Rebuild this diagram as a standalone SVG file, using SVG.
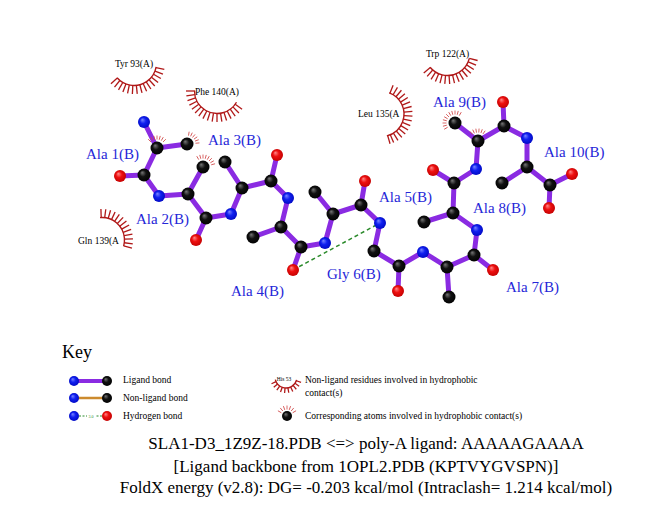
<svg xmlns="http://www.w3.org/2000/svg" xmlns:xlink="http://www.w3.org/1999/xlink" width="651" height="511" viewBox="0 0 651 511">
<defs>
<radialGradient id="gC" cx="0.5" cy="0.5" r="0.55" fx="0.35" fy="0.3"><stop offset="0" stop-color="#777"/><stop offset="0.45" stop-color="#111"/><stop offset="1" stop-color="#000"/></radialGradient>
<radialGradient id="gN" cx="0.5" cy="0.5" r="0.55" fx="0.35" fy="0.3"><stop offset="0" stop-color="#7a86ff"/><stop offset="0.45" stop-color="#1020f0"/><stop offset="1" stop-color="#0008c0"/></radialGradient>
<radialGradient id="gO" cx="0.5" cy="0.5" r="0.55" fx="0.35" fy="0.3"><stop offset="0" stop-color="#ff8a8a"/><stop offset="0.45" stop-color="#ee1010"/><stop offset="1" stop-color="#c00000"/></radialGradient>
<line id="sp" x1="22.5" y1="0" x2="31" y2="0"/>
<line id="ksp" x1="11" y1="0" x2="16" y2="0"/>
<line id="el" x1="8.5" y1="0" x2="12.5" y2="0"/>
</defs>
<style>
.c{fill:url(#gC)}
.n{fill:url(#gN)}
.o{fill:url(#gO)}
.lb{stroke:#8a2be2;stroke-width:5;stroke-linecap:round;fill:none}
.hb{stroke:#2a8a2a;stroke-width:1.5;stroke-dasharray:4 3;fill:none}
.arc{stroke:#b01818;stroke-width:1.4;fill:none}
.arc use{stroke:#b01818;stroke-width:1.3}
.eye use{stroke:#d04848;stroke-width:0.8}
.res{font-family:"Liberation Serif","Times New Roman",serif;font-size:15px;fill:#2626d8}
.hl{font-family:"Liberation Serif","Times New Roman",serif;font-size:9.5px;fill:#000}
.kt{font-family:"Liberation Serif","Times New Roman",serif;font-size:9.5px;fill:#000}
.tt{font-family:"Liberation Serif","Times New Roman",serif;font-size:17px;fill:#000;text-anchor:middle}
</style>
<rect width="651" height="511" fill="#fff"/>

<g id="connectors">
<path class="lb" d="M144,122L157,148M157,148L187,144M157,148L144,175M144,175L120,176M144,175L159,196
M159,196L188,194M188,194L203,167M188,194L206,218M206,218L196,240M206,218L231,214
M231,214L242,188M242,188L225,162M242,188L271,181M271,181L277,155M271,181L288,198
M288,198L281,227M281,227L253,237M281,227L301,247M301,247L293,270M301,247L325,243
M325,243L333,214M333,214L315,192M333,214L361,205M361,205L365,181M361,205L380,223
M380,223L374,251M374,251L399,266M399,266L398,291M399,266L423,252
M423,252L447,267M447,267L449,297M447,267L474,255M474,255L493,270M474,255L477,230
M477,230L453,213M453,213L424,222M453,213L454,183M454,183L433,170M454,183L476,169
M476,169L478,141M478,141L455,123M478,141L504,126M504,126L503,102M504,126L527,138
M527,138L527,167M527,167L502,183M527,167L550,185M550,185L572,174M550,185L549,208"/>
<line id="hbond" class="hb" x1="293" y1="270" x2="380" y2="223"/>
</g>

<g id="hydrophobic">
<g id="tyr93" class="arc" transform="translate(134,63)">
<circle r="22.5" transform="rotate(10)" stroke-dasharray="50.3 200"/>
<use href="#sp" transform="rotate(12)"/><use href="#sp" transform="rotate(21)"/><use href="#sp" transform="rotate(30)"/><use href="#sp" transform="rotate(39)"/><use href="#sp" transform="rotate(48)"/><use href="#sp" transform="rotate(57)"/><use href="#sp" transform="rotate(66)"/><use href="#sp" transform="rotate(75)"/><use href="#sp" transform="rotate(84)"/><use href="#sp" transform="rotate(93)"/><use href="#sp" transform="rotate(102)"/><use href="#sp" transform="rotate(111)"/><use href="#sp" transform="rotate(120)"/><use href="#sp" transform="rotate(129)"/><use href="#sp" transform="rotate(138)"/>
</g>
<text class="hl" x="134" y="66.5" text-anchor="middle">Tyr 93(A)</text>
<g id="phe140" class="arc" transform="translate(217,91)">
<circle r="22.5" transform="rotate(30)" stroke-dasharray="58.9 200"/>
<use href="#sp" transform="rotate(36)"/><use href="#sp" transform="rotate(45)"/><use href="#sp" transform="rotate(54)"/><use href="#sp" transform="rotate(63)"/><use href="#sp" transform="rotate(72)"/><use href="#sp" transform="rotate(81)"/><use href="#sp" transform="rotate(90)"/><use href="#sp" transform="rotate(99)"/><use href="#sp" transform="rotate(108)"/><use href="#sp" transform="rotate(117)"/><use href="#sp" transform="rotate(126)"/><use href="#sp" transform="rotate(135)"/><use href="#sp" transform="rotate(144)"/><use href="#sp" transform="rotate(153)"/><use href="#sp" transform="rotate(162)"/><use href="#sp" transform="rotate(171)"/><use href="#sp" transform="rotate(180)"/>
</g>
<text class="hl" x="217" y="94.5" text-anchor="middle">Phe 140(A)</text>
<g id="gln139" class="arc" transform="translate(102,240)">
<circle r="22.5" transform="rotate(-95)" stroke-dasharray="43.2 200"/>
<use href="#sp" transform="rotate(-92)"/><use href="#sp" transform="rotate(-83)"/><use href="#sp" transform="rotate(-74)"/><use href="#sp" transform="rotate(-65)"/><use href="#sp" transform="rotate(-56)"/><use href="#sp" transform="rotate(-47)"/><use href="#sp" transform="rotate(-38)"/><use href="#sp" transform="rotate(-29)"/><use href="#sp" transform="rotate(-20)"/><use href="#sp" transform="rotate(-11)"/><use href="#sp" transform="rotate(-2)"/><use href="#sp" transform="rotate(7)"/><use href="#sp" transform="rotate(15)"/>
</g>
<text class="hl" x="78" y="244">Gln 139(A</text>
<g id="trp122" class="arc" transform="translate(447.5,53)">
<circle r="22.5" transform="rotate(14)" stroke-dasharray="49.5 200"/>
<use href="#sp" transform="rotate(14)"/><use href="#sp" transform="rotate(23)"/><use href="#sp" transform="rotate(32)"/><use href="#sp" transform="rotate(41)"/><use href="#sp" transform="rotate(50)"/><use href="#sp" transform="rotate(59)"/><use href="#sp" transform="rotate(68)"/><use href="#sp" transform="rotate(77)"/><use href="#sp" transform="rotate(86)"/><use href="#sp" transform="rotate(95)"/><use href="#sp" transform="rotate(104)"/><use href="#sp" transform="rotate(113)"/><use href="#sp" transform="rotate(122)"/><use href="#sp" transform="rotate(131)"/><use href="#sp" transform="rotate(140)"/>
</g>
<text class="hl" x="447.5" y="57" text-anchor="middle">Trp 122(A)</text>
<g id="leu135" class="arc" transform="translate(381.5,114)">
<circle r="22.5" transform="rotate(-70)" stroke-dasharray="57 200"/>
<use href="#sp" transform="rotate(-68)"/><use href="#sp" transform="rotate(-59)"/><use href="#sp" transform="rotate(-50)"/><use href="#sp" transform="rotate(-41)"/><use href="#sp" transform="rotate(-32)"/><use href="#sp" transform="rotate(-23)"/><use href="#sp" transform="rotate(-14)"/><use href="#sp" transform="rotate(-5)"/><use href="#sp" transform="rotate(4)"/><use href="#sp" transform="rotate(13)"/><use href="#sp" transform="rotate(22)"/><use href="#sp" transform="rotate(31)"/><use href="#sp" transform="rotate(40)"/><use href="#sp" transform="rotate(49)"/><use href="#sp" transform="rotate(58)"/><use href="#sp" transform="rotate(67)"/><use href="#sp" transform="rotate(74)"/>
</g>
<text class="hl" x="358" y="117">Leu 135(A</text>
</g>

<g id="contacts" class="eye">
<g transform="translate(157,148)"><use href="#el" transform="rotate(-135)"/><use href="#el" transform="rotate(-120)"/><use href="#el" transform="rotate(-105)"/><use href="#el" transform="rotate(-90)"/><use href="#el" transform="rotate(-75)"/><use href="#el" transform="rotate(-60)"/><use href="#el" transform="rotate(-45)"/></g>
<g transform="translate(187,144)"><use href="#el" transform="rotate(-80)"/><use href="#el" transform="rotate(-65)"/><use href="#el" transform="rotate(-50)"/><use href="#el" transform="rotate(-35)"/><use href="#el" transform="rotate(-20)"/><use href="#el" transform="rotate(-5)"/></g>
<g transform="translate(203,167)"><use href="#el" transform="rotate(-120)"/><use href="#el" transform="rotate(-105)"/><use href="#el" transform="rotate(-90)"/><use href="#el" transform="rotate(-75)"/><use href="#el" transform="rotate(-60)"/><use href="#el" transform="rotate(-45)"/><use href="#el" transform="rotate(-30)"/><use href="#el" transform="rotate(-15)"/></g>
<g transform="translate(455,123)"><use href="#el" transform="rotate(150)"/><use href="#el" transform="rotate(165)"/><use href="#el" transform="rotate(180)"/><use href="#el" transform="rotate(195)"/><use href="#el" transform="rotate(210)"/><use href="#el" transform="rotate(225)"/><use href="#el" transform="rotate(240)"/><use href="#el" transform="rotate(255)"/><use href="#el" transform="rotate(270)"/><use href="#el" transform="rotate(285)"/><use href="#el" transform="rotate(300)"/></g>
<g transform="translate(478,141)"><use href="#el" transform="rotate(-130)"/><use href="#el" transform="rotate(-115)"/><use href="#el" transform="rotate(-100)"/><use href="#el" transform="rotate(-85)"/><use href="#el" transform="rotate(-70)"/><use href="#el" transform="rotate(-55)"/></g>
</g>

<g id="ala1"><circle class="n" cx="144" cy="122" r="6"/><circle class="c" cx="157" cy="148" r="6.5"/><circle class="c" cx="187" cy="144" r="6.5"/><circle class="c" cx="144" cy="175" r="6.5"/><circle class="o" cx="120" cy="176" r="6"/><text class="res" x="86" y="159">Ala 1(B)</text></g>
<g id="ala2"><circle class="n" cx="159" cy="196" r="6"/><circle class="c" cx="188" cy="194" r="6.5"/><circle class="c" cx="203" cy="167" r="6.5"/><circle class="c" cx="206" cy="218" r="6.5"/><circle class="o" cx="196" cy="240" r="6"/><text class="res" x="136" y="224">Ala 2(B)</text></g>
<g id="ala3"><circle class="n" cx="231" cy="214" r="6"/><circle class="c" cx="242" cy="188" r="6.5"/><circle class="c" cx="225" cy="162" r="6.5"/><circle class="c" cx="271" cy="181" r="6.5"/><circle class="o" cx="277" cy="155" r="6"/><text class="res" x="208" y="145">Ala 3(B)</text></g>
<g id="ala4"><circle class="n" cx="288" cy="198" r="6"/><circle class="c" cx="281" cy="227" r="6.5"/><circle class="c" cx="253" cy="237" r="6.5"/><circle class="c" cx="301" cy="247" r="6.5"/><circle class="o" cx="293" cy="270" r="6"/><text class="res" x="231" y="296">Ala 4(B)</text></g>
<g id="ala5"><circle class="n" cx="325" cy="243" r="6"/><circle class="c" cx="333" cy="214" r="6.5"/><circle class="c" cx="315" cy="192" r="6.5"/><circle class="c" cx="361" cy="205" r="6.5"/><circle class="o" cx="365" cy="181" r="6"/><text class="res" x="379" y="202">Ala 5(B)</text></g>
<g id="gly6"><circle class="n" cx="380" cy="223" r="6"/><circle class="c" cx="374" cy="251" r="6.5"/><circle class="c" cx="399" cy="266" r="6.5"/><circle class="o" cx="398" cy="291" r="6"/><text class="res" x="327" y="279">Gly 6(B)</text></g>
<g id="ala7"><circle class="n" cx="423" cy="252" r="6"/><circle class="c" cx="447" cy="267" r="6.5"/><circle class="c" cx="449" cy="297" r="6.5"/><circle class="c" cx="474" cy="255" r="6.5"/><circle class="o" cx="493" cy="270" r="6"/><text class="res" x="506" y="292">Ala 7(B)</text></g>
<g id="ala8"><circle class="n" cx="477" cy="230" r="6"/><circle class="c" cx="453" cy="213" r="6.5"/><circle class="c" cx="424" cy="222" r="6.5"/><circle class="c" cx="454" cy="183" r="6.5"/><circle class="o" cx="433" cy="170" r="6"/><text class="res" x="473" y="213">Ala 8(B)</text></g>
<g id="ala9"><circle class="n" cx="476" cy="169" r="6"/><circle class="c" cx="478" cy="141" r="6.5"/><circle class="c" cx="455" cy="123" r="6.5"/><circle class="c" cx="504" cy="126" r="6.5"/><circle class="o" cx="503" cy="102" r="6"/><text class="res" x="433" y="107">Ala 9(B)</text></g>
<g id="ala10"><circle class="n" cx="527" cy="138" r="6"/><circle class="c" cx="527" cy="167" r="6.5"/><circle class="c" cx="502" cy="183" r="6.5"/><circle class="c" cx="550" cy="185" r="6.5"/><circle class="o" cx="572" cy="174" r="6"/><circle class="o" cx="549" cy="208" r="6"/><text class="res" x="544" y="157">Ala 10(B)</text></g>

<g id="key">
<text x="62" y="358" style="font-family:'Liberation Serif','Times New Roman',serif;font-size:18px">Key</text>
<line x1="74" y1="381" x2="107" y2="381" stroke="#8a2be2" stroke-width="4"/>
<circle class="n" cx="74" cy="381" r="5"/><circle class="c" cx="107" cy="381" r="5"/>
<text class="kt" x="123" y="383">Ligand bond</text>
<line x1="74" y1="398" x2="107" y2="398" stroke="#cc8a2e" stroke-width="2.5"/>
<circle class="n" cx="74" cy="398" r="5"/><circle class="c" cx="107" cy="398" r="5"/>
<text class="kt" x="123" y="401">Non-ligand bond</text>
<line x1="79" y1="416" x2="102" y2="416" stroke="#2a8a2a" stroke-width="1" stroke-dasharray="2 1.5"/>
<rect x="87" y="413" width="8" height="6" fill="#fff"/>
<text x="91" y="417.5" text-anchor="middle" style="font-family:'Liberation Serif',serif;font-size:4px;fill:#2a8a2a">3.0</text>
<circle class="n" cx="74" cy="416" r="5"/><circle class="o" cx="107" cy="416" r="5"/>
<text class="kt" x="123" y="418.5">Hydrogen bond</text>
<text x="284" y="381" text-anchor="middle" style="font-family:'Liberation Serif',serif;font-size:5.5px">His 53</text>
<g class="arc" transform="translate(286,377)">
<circle r="11" transform="rotate(15)" stroke-dasharray="28.8 100"/>
<use href="#ksp" transform="rotate(20)"/><use href="#ksp" transform="rotate(35)"/><use href="#ksp" transform="rotate(50)"/><use href="#ksp" transform="rotate(65)"/><use href="#ksp" transform="rotate(80)"/><use href="#ksp" transform="rotate(95)"/><use href="#ksp" transform="rotate(110)"/><use href="#ksp" transform="rotate(125)"/><use href="#ksp" transform="rotate(140)"/><use href="#ksp" transform="rotate(155)"/>
</g>
<text class="kt" x="305" y="383">Non-ligand residues involved in hydrophobic</text>
<text class="kt" x="305" y="396">contact(s)</text>
<circle class="c" cx="287" cy="416" r="5"/>
<g class="eye" transform="translate(287,416)"><use href="#el" transform="rotate(-150)" x="-2"/><use href="#el" transform="rotate(-130)" x="-2"/><use href="#el" transform="rotate(-110)" x="-2"/><use href="#el" transform="rotate(-90)" x="-2"/><use href="#el" transform="rotate(-70)" x="-2"/><use href="#el" transform="rotate(-50)" x="-2"/><use href="#el" transform="rotate(-30)" x="-2"/></g>
<text class="kt" x="305" y="418.5">Corresponding atoms involved in hydrophobic contact(s)</text>
</g>

<g id="title">
<text class="tt" x="366" y="449">SLA1-D3_1Z9Z-18.PDB &lt;=&gt; poly-A ligand: AAAAAGAAAA</text>
<text class="tt" x="366" y="472">[Ligand backbone from 1OPL2.PDB (KPTVYGVSPN)]</text>
<text class="tt" x="366" y="493">FoldX energy (v2.8): DG= -0.203 kcal/mol (Intraclash= 1.214 kcal/mol)</text>
</g>
</svg>
